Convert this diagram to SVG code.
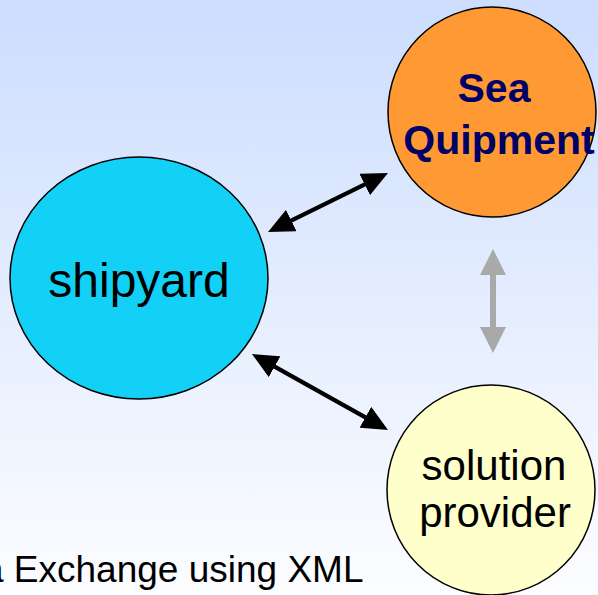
<svg xmlns="http://www.w3.org/2000/svg" width="598" height="595" viewBox="0 0 598 595">
<defs>
<linearGradient id="bg" x1="0" y1="0" x2="0" y2="1">
<stop offset="0" stop-color="#CCDDFE"/>
<stop offset="1" stop-color="#FCFDFF"/>
</linearGradient>
<marker id="ah" viewBox="0 0 26 24" refX="20" refY="12" markerWidth="26" markerHeight="24" orient="auto-start-reverse" markerUnits="userSpaceOnUse">
<path d="M0,0 L26,12 L0,24 Z" fill="#000"/>
</marker>
<marker id="ahg" viewBox="0 0 26 26" refX="18" refY="13" markerWidth="26" markerHeight="26" orient="auto-start-reverse" markerUnits="userSpaceOnUse">
<path d="M0,0 L26,13 L0,26 Z" fill="#A9A9A9"/>
</marker>
<style>
.node{stroke:#000;stroke-width:1.5}
.t{font-family:"Liberation Sans",Arial,sans-serif;text-anchor:middle;fill:#000}
.b{font-weight:bold;fill:#000066}
.k{stroke:#000;stroke-width:4.3;marker-start:url(#ah);marker-end:url(#ah)}
</style>
</defs>
<rect x="0" y="0" width="598" height="595" fill="url(#bg)"/>
<g id="connectors">
<line class="k" x1="273.4" y1="229.4" x2="382.6" y2="175.6"/>
<line class="k" x1="257.2" y1="356.9" x2="382.8" y2="427.1"/>
<line x1="493" y1="257" x2="493" y2="345" stroke="#A9A9A9" stroke-width="6" marker-start="url(#ahg)" marker-end="url(#ahg)"/>
</g>
<g id="shipyard">
<ellipse class="node" cx="139" cy="278" rx="129" ry="121" fill="#12D0F6"/>
<text class="t" x="139" y="297" font-size="48">shipyard</text>
</g>
<g id="seaquipment">
<ellipse class="node" cx="492" cy="112" rx="104" ry="105" fill="#FF9933"/>
<text class="t b" x="494" y="102" font-size="41">Sea</text>
<text class="t b" x="499" y="154" font-size="41">Quipment</text>
</g>
<g id="solutionprovider">
<ellipse class="node" cx="491" cy="490" rx="104" ry="105" fill="#FFFFCC"/>
<text class="t" x="494" y="480" font-size="42">solution</text>
<text class="t" x="495" y="527" font-size="42">provider</text>
</g>
<text x="-17" y="582" font-size="37" style="font-family:'Liberation Sans',Arial,sans-serif" fill="#000">a Exchange using XML</text>
</svg>
